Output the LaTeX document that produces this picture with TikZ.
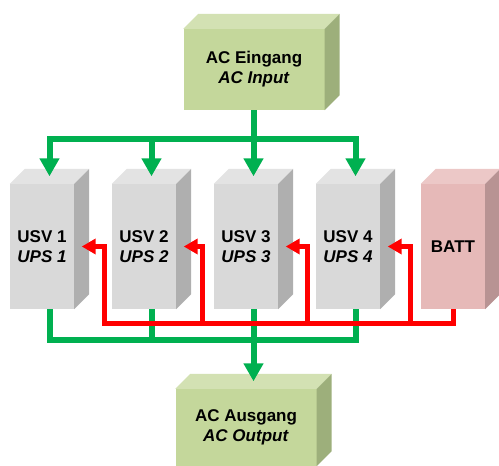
\documentclass[tikz,border=0pt]{standalone}
\usepackage{fontspec}
\setmainfont{Liberation Sans}
\usepackage{xcolor}
\usepackage{tikz}
\usetikzlibrary{arrows.meta,calc}
\definecolor{acfronte}{HTML}{C4D79B}
\definecolor{acsopra}{HTML}{D3E1B3}
\definecolor{aclato}{HTML}{9DAF7B}
\definecolor{usvfronte}{HTML}{D9D9D9}
\definecolor{usvsopra}{HTML}{E3E3E3}
\definecolor{usvlato}{HTML}{AFAFAF}
\definecolor{battfronte}{HTML}{E6B9B8}
\definecolor{battsopra}{HTML}{ECC8C7}
\definecolor{battlato}{HTML}{B89393}
\definecolor{verdelinea}{HTML}{00B050}
\definecolor{rossolinea}{HTML}{FF0000}
\tikzset{
  usvnode/.style={rectangle,fill=usvfronte,minimum width=64pt,minimum height=125pt,inner sep=0pt,align=center},
  acnode/.style={rectangle,fill=acfronte,minimum width=141pt,inner sep=0pt,align=center},
  battnode/.style={usvnode,fill=battfronte},
  arcac/.style={draw=verdelinea,line width=6pt},
  arcacf/.style={arcac,-{Triangle[length=18pt,width=19pt]}},
  arcbatt/.style={draw=rossolinea,line width=5pt,-{Triangle[length=14pt,width=15pt]}}
}
% top and side faces of a box, plus its end points
\newcommand{\facce}[3]{%
  \fill[#2] (#1.north west) -- ++(15,-15) -- ($(#1.north east)+(15,-15)$) -- (#1.north east) -- cycle;
  \fill[#3] (#1.north east) -- ++(15,-15) -- ($(#1.south east)+(15,-15)$) -- (#1.south east) -- cycle;
  \coordinate (#1-top) at ($(#1.north)+(7.5,-7.5)$);
  \coordinate (#1-side) at ($(#1.east)+(7.5,0)$);
  \coordinate (#1-bot) at ($(#1.south)+(7.5,0)$);
}

\begin{document}
\begin{tikzpicture}[x=1pt,y=-1pt,font=\fontsize{17}{20}\selectfont\bfseries]
  \useasboundingbox (0,0) rectangle (499,466);
  \node[acnode,minimum height=81pt] (in) at (254,69.5) {AC Eingang\\\textit{AC Input}};
  \node[usvnode] (usv1) at (42,246.5) {USV 1\\\textit{UPS 1}};
  \node[usvnode] (usv2) at (144,246.5) {USV 2\\\textit{UPS 2}};
  \node[usvnode] (usv3) at (246,246.5) {USV 3\\\textit{UPS 3}};
  \node[usvnode] (usv4) at (348,246.5) {USV 4\\\textit{UPS 4}};
  \node[battnode] (batt) at (453,246.5) {BATT};
  \node[acnode,minimum height=77pt] (out) at (246,427.5) {AC Ausgang\\\textit{AC Output}};
  \facce{in}{acsopra}{aclato}
  \facce{out}{acsopra}{aclato}
  \foreach \u in {usv1,usv2,usv3,usv4} {\facce{\u}{usvsopra}{usvlato}}
  \facce{batt}{battsopra}{battlato}
  % AC input to the UPS units
  \draw[arcac] (in.south) -- ++(0,29) coordinate (gsopra);
  \draw[arcacf] (gsopra) -| (usv1-top);
  \draw[arcacf] (gsopra) -| (usv4-top);
  \draw[arcacf] (gsopra -| usv2-top) -- (usv2-top);
  \draw[arcacf] (gsopra -| usv3-top) -- (usv3-top);
  % UPS units to AC output
  \draw[arcac] (usv1-bot) -- ++(0,31) coordinate (gsotto) -| (usv4-bot);
  \draw[arcac] (usv2-bot) -- (usv2-bot |- gsotto);
  \draw[arcacf] (usv3-bot) -- (out-top);
  % battery bus
  \draw[arcbatt] (batt.south) -- ++(0,14) coordinate (rsotto) -- ($(rsotto -| usv1.east)+(30,0)$) |- (usv1-side);
  \foreach \u/\d in {usv2/26,usv3/29,usv4/30}
    \draw[arcbatt] ($(rsotto -| \u.east)+(\d,0)$) |- (\u-side);
\end{tikzpicture}
\end{document}
